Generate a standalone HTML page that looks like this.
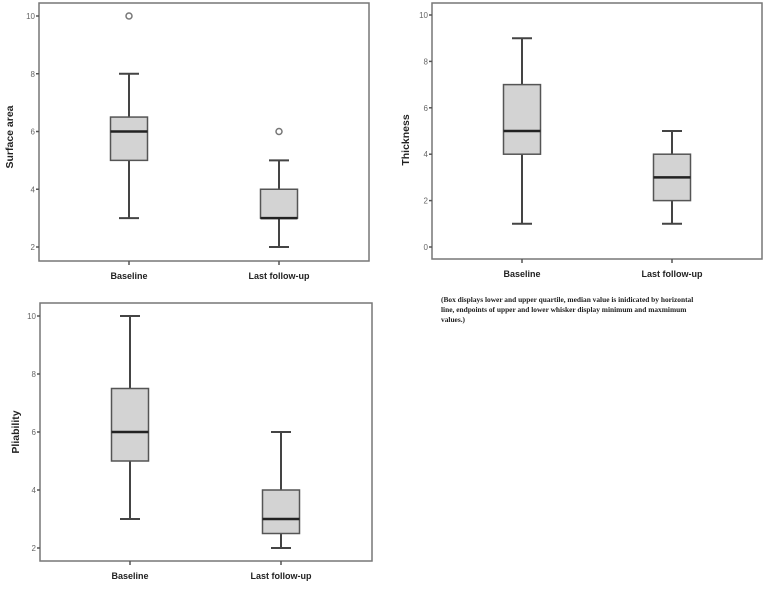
<!DOCTYPE html>
<html><head><meta charset="utf-8"><style>
html,body{margin:0;padding:0;background:#fff;width:768px;height:600px;overflow:hidden}
svg text{font-family:"Liberation Sans",sans-serif}
</style></head><body>
<svg id="s" width="768" height="600" viewBox="0 0 768 600">
<text x="441" y="302" style="font-family:'Liberation Serif',serif" font-weight="bold" font-size="7.4" fill="#222">(Box displays lower and upper quartile, median value is inidicated by horizontal</text>
<text x="441" y="312" style="font-family:'Liberation Serif',serif" font-weight="bold" font-size="7.4" fill="#222">line, endpoints of upper and lower whisker display minimum and maxmimum</text>
<text x="441" y="322" style="font-family:'Liberation Serif',serif" font-weight="bold" font-size="7.4" fill="#222">values.)</text>
</svg>
<script>
const categories = ["Baseline", "Last follow-up"];
const surfaceStats = [[3,5,6,6.5,8],[2,3,3,4,5]];
const surfaceOutliers = [[10],[6]];
const surfaceTicks = [2,4,6,8,10];
const thicknessStats = [[1,4,5,7,9],[1,2,3,4,5]];
const thicknessOutliers = [[],[]];
const thicknessTicks = [0,2,4,6,8,10];
const pliabilityStats = [[3,5,6,7.5,10],[2,2.5,3,4,6]];
const pliabilityOutliers = [[],[]];
const pliabilityTicks = [2,4,6,8,10];

const NS = "http://www.w3.org/2000/svg";
const svg = document.getElementById('s');
function mk(tag, attrs, parent){const e=document.createElementNS(NS,tag);for(const k in attrs)e.setAttribute(k,attrs[k]);(parent||svg).appendChild(e);return e;}

function panel(cfg){
  const g = mk('g',{});
  
  
  const y = v => cfg.y0 + (v - cfg.v0) * (cfg.y1 - cfg.y0) / (cfg.v1 - cfg.v0);
  const xs = [cfg.xa, cfg.xb];
  const fr = mk('rect',{x:cfg.L,y:cfg.T,width:cfg.R-cfg.L,height:cfg.B-cfg.T,fill:'none',stroke:'#777','stroke-width':1.5},g);
  
  
  cfg.ticks.forEach(t=>{
    mk('line',{x1:cfg.L-3,x2:cfg.L,y1:y(t),y2:y(t),stroke:'#555','stroke-width':1.5},g);
    const tx = mk('text',{x:cfg.L-4,y:y(t)+3,'text-anchor':'end','font-size':8,fill:'#666'},g);
    tx.textContent = t;
    
    
  });
  const yt = mk('text',{x:0,y:0,transform:`translate(${cfg.tx},${cfg.ty}) rotate(-90)`,'text-anchor':'middle','font-size':10.5,'font-weight':'bold',fill:'#222'},g);
  yt.textContent = cfg.title;
  
  
  cfg.stats.forEach((s,i)=>{
    const x = xs[i], w = 37, cw = 20;
    mk('line',{x1:x,x2:x,y1:cfg.B,y2:cfg.B+4,stroke:'#555','stroke-width':1.5},g);
    const lb = mk('text',{x:x,y:cfg.B+18,'text-anchor':'middle','font-size':9,'font-weight':'bold',fill:'#222'},g);
    lb.textContent = categories[i];
    
    
    const bg = mk('g',{},g);
    
    
    mk('line',{x1:x,x2:x,y1:y(s[0]),y2:y(s[1]),stroke:'#444','stroke-width':2},bg);
    mk('line',{x1:x,x2:x,y1:y(s[3]),y2:y(s[4]),stroke:'#444','stroke-width':2},bg);
    mk('line',{x1:x-cw/2,x2:x+cw/2,y1:y(s[0]),y2:y(s[0]),stroke:'#444','stroke-width':2},bg);
    mk('line',{x1:x-cw/2,x2:x+cw/2,y1:y(s[4]),y2:y(s[4]),stroke:'#444','stroke-width':2},bg);
    mk('rect',{x:x-w/2,y:y(s[3]),width:w,height:y(s[1])-y(s[3]),fill:'#d3d3d3',stroke:'#555','stroke-width':1.5},bg);
    mk('line',{x1:x-w/2,x2:x+w/2,y1:y(s[2]),y2:y(s[2]),stroke:'#222','stroke-width':2.5},bg);
    cfg.out[i].forEach(o=>{
      const c = mk('circle',{cx:x,cy:y(o),r:3,fill:'#fff',stroke:'#777','stroke-width':1.5},bg);
      
      
    });
  });
}
panel({name:'surface-area-chart',L:39,T:3,R:369,B:261,v0:2,y0:247,v1:10,y1:16,xa:129,xb:279,ticks:surfaceTicks,stats:surfaceStats,out:surfaceOutliers,title:'Surface area',tx:13,ty:137});
panel({name:'thickness-chart',L:432,T:3,R:762,B:259,v0:0,y0:247,v1:10,y1:15,xa:522,xb:672,ticks:thicknessTicks,stats:thicknessStats,out:thicknessOutliers,title:'Thickness',tx:409,ty:140});
panel({name:'pliability-chart',L:40,T:303,R:372,B:561,v0:2,y0:548,v1:10,y1:316,xa:130,xb:281,ticks:pliabilityTicks,stats:pliabilityStats,out:pliabilityOutliers,title:'Pliability',tx:19,ty:432});
</script>
</body></html>
